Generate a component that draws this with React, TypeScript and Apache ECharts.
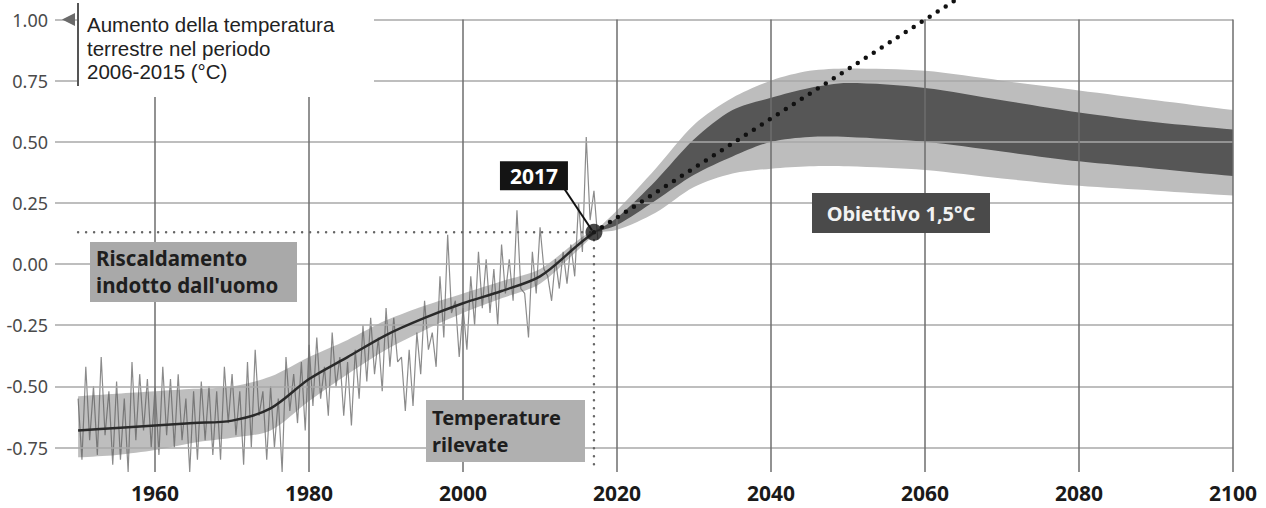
import React, { useEffect, useRef } from "react";
import * as echarts from "echarts";

const FONT = "'Noto Sans', 'Open Sans', sans-serif";
const NOTE_FONT = "'Liberation Sans', Arial, sans-serif";

// Axis ticks
const xTicks = [1960, 1980, 2000, 2020, 2040, 2060, 2080, 2100];
const yTicks = [-0.75, -0.5, -0.25, 0, 0.25, 0.5, 0.75, 1.0];
const xMin = 1947;
const xMax = 2100;
const yMin = -0.85;
const yMax = 1.0;

// Observed temperatures (annual high / low excursions), 1950..2017
const obsStart = 1950;
const obsHigh = [
  -0.55, -0.42, -0.5, -0.38, -0.52, -0.48, -0.55, -0.4, -0.45, -0.47,
  -0.5, -0.42, -0.47, -0.45, -0.55, -0.52, -0.48, -0.5, -0.52, -0.42,
  -0.45, -0.52, -0.4, -0.35, -0.52, -0.5, -0.55, -0.38, -0.45, -0.4,
  -0.33, -0.3, -0.42, -0.28, -0.38, -0.4, -0.35, -0.25, -0.22, -0.3,
  -0.18, -0.22, -0.38, -0.35, -0.28, -0.15, -0.28, -0.05, 0.12, -0.15,
  -0.18, -0.05, 0.05, 0.02, -0.02, 0.08, 0.02, 0.22, -0.12, 0.05,
  0.15, -0.05, 0.02, 0.05, 0.08, 0.25, 0.52, 0.3,
];
const obsLow = [
  -0.8, -0.72, -0.78, -0.7, -0.82, -0.8, -0.85, -0.72, -0.68, -0.75,
  -0.78, -0.7, -0.75, -0.72, -0.85, -0.8, -0.72, -0.78, -0.8, -0.65,
  -0.7, -0.82, -0.75, -0.62, -0.8, -0.75, -0.85, -0.6, -0.65, -0.68,
  -0.58, -0.55, -0.62, -0.5, -0.62, -0.66, -0.55, -0.48, -0.45, -0.52,
  -0.42, -0.4, -0.6, -0.58, -0.45, -0.35, -0.42, -0.3, -0.2, -0.38,
  -0.35, -0.25, -0.18, -0.2, -0.25, -0.12, -0.15, -0.1, -0.3, -0.12,
  -0.02, -0.15, -0.1, -0.08, -0.05, 0.05, 0.18, 0.1,
];

// Human-induced warming (central estimate and range)
const humYears = [1950, 1955, 1960, 1965, 1970, 1975, 1980, 1985, 1990, 1995, 2000, 2005, 2010, 2015, 2017];
const humCenter = [-0.68, -0.67, -0.66, -0.65, -0.64, -0.59, -0.47, -0.38, -0.29, -0.22, -0.16, -0.11, -0.05, 0.08, 0.13];
const humLower = [-0.79, -0.78, -0.76, -0.73, -0.71, -0.68, -0.56, -0.45, -0.35, -0.27, -0.2, -0.14, -0.08, 0.06, 0.12];
const humUpper = [-0.54, -0.53, -0.52, -0.51, -0.5, -0.46, -0.38, -0.31, -0.23, -0.17, -0.12, -0.07, -0.02, 0.1, 0.14];

// 1.5°C pathways (outer and inner ranges)
const projYears = [2017, 2020, 2025, 2030, 2035, 2040, 2045, 2050, 2060, 2070, 2080, 2090, 2100];
const projOuterTop = [0.13, 0.22, 0.39, 0.57, 0.68, 0.75, 0.79, 0.8, 0.79, 0.75, 0.71, 0.67, 0.63];
const projInnerTop = [0.13, 0.19, 0.34, 0.51, 0.63, 0.68, 0.72, 0.74, 0.72, 0.67, 0.62, 0.58, 0.55];
const projInnerBottom = [0.13, 0.16, 0.26, 0.365, 0.44, 0.5, 0.52, 0.52, 0.5, 0.46, 0.42, 0.39, 0.36];
const projOuterBottom = [0.13, 0.14, 0.21, 0.315, 0.37, 0.39, 0.4, 0.4, 0.385, 0.35, 0.32, 0.3, 0.28];

// Current trend continued
const trendYears = [2017, 2064];
const trendValues = [0.13, 1.08];

// 2017 marker
const markerYear = 2017;
const markerValue = 0.13;
const refStartYear = 1950;

const pairs = (xs: number[], ys: number[]) => xs.map((x, i) => [x, ys[i]]);

// Band drawn through the axes (api.coord), as one smooth polygon with sharp end corners
function bandSeries(name: string, xs: number[], lower: number[], upper: number[], fill: string, z: number, opacity = 1) {
  return {
    name,
    type: "custom",
    z,
    silent: true,
    data: [[xs[0], lower[0]]],
    renderItem: (_params: any, api: any) => {
      const top = xs.map((x, i) => api.coord([x, upper[i]]));
      const bottom = xs.map((x, i) => api.coord([x, lower[i]])).reverse();
      const pts = [
        top[0],
        ...top,
        top[top.length - 1],
        bottom[0],
        ...bottom,
        bottom[bottom.length - 1],
      ];
      return {
        type: "polygon",
        shape: { points: pts, smooth: 0.3 },
        style: { fill, opacity },
      };
    },
  };
}

export default function App() {
  const ref = useRef<HTMLDivElement>(null);

  useEffect(() => {
    document.body.style.margin = "0";
    if (!ref.current) return;
    const chart = echarts.init(ref.current, null, { renderer: "svg" });

    const obsData: number[][] = [];
    obsHigh.forEach((h, i) => {
      obsData.push([obsStart + i, h]);
      obsData.push([obsStart + i + 0.5, obsLow[i]]);
    });

    const option: any = {
      animation: false,
      backgroundColor: "#ffffff",
      grid: { left: 55, right: 33, top: 19.5, bottom: 36 },
      xAxis: {
        type: "value",
        min: xMin,
        max: xMax,
        axisLine: { show: false },
        axisTick: { show: false },
        splitLine: { show: false },
        axisLabel: {
          customValues: xTicks,
          margin: 10,
          color: "#1a1a1a",
          fontFamily: FONT,
          fontWeight: "bold",
          fontSize: 21,
          formatter: (v: number) => String(v),
        },
      },
      yAxis: {
        type: "value",
        min: yMin,
        max: yMax,
        axisLine: { show: false },
        axisTick: { show: false },
        splitLine: { show: false },
        axisLabel: {
          customValues: yTicks,
          margin: 7,
          color: "#4a4a4a",
          fontFamily: FONT,
          fontSize: 18,
          formatter: (v: number) => v.toFixed(2),
        },
      },
      series: [
        {
          name: "gridH",
          type: "line",
          data: [],
          z: 1,
          silent: true,
          markLine: {
            silent: true,
            symbol: ["none", "none"],
            label: { show: false },
            lineStyle: { color: "#a8a8a8", width: 1.5, type: "solid" },
            data: yTicks.map((v) => [{ coord: [xMin, v] }, { coord: [xMax, v] }]),
          },
        },
        {
          name: "gridV",
          type: "line",
          data: [],
          z: 1,
          silent: true,
          markLine: {
            silent: true,
            symbol: ["none", "none"],
            label: { show: false },
            lineStyle: { color: "#6e6e6e", width: 1.5, type: "solid" },
            data: xTicks.map((x) => [{ coord: [x, yMax] }, { coord: [x, yMin] }]),
          },
        },
        bandSeries("humRange", humYears, humLower, humUpper, "#b3b3b3", 3, 0.85),
        // observed
        {
          name: "observed",
          type: "line",
          symbol: "none",
          data: obsData,
          lineStyle: { color: "#5a5a5a", width: 1.2, opacity: 0.7 },
          z: 4,
          silent: true,
        },
        // human center
        {
          name: "humCenter",
          type: "line",
          symbol: "none",
          smooth: 0.3,
          data: pairs(humYears, humCenter),
          lineStyle: { color: "#2a2a2a", width: 2.5 },
          z: 5,
          silent: true,
        },
        bandSeries("projOuter", projYears, projOuterBottom, projOuterTop, "#bdbdbd", 3),
        bandSeries("projInner", projYears, projInnerBottom, projInnerTop, "#565656", 3),
        // reference dotted lines
        {
          name: "refH",
          type: "line",
          symbol: "none",
          data: [
            [refStartYear, markerValue],
            [markerYear, markerValue],
          ],
          lineStyle: { color: "#666", width: 2.5, type: [0, 8], cap: "round" },
          z: 6,
          silent: true,
        },
        {
          name: "refV",
          type: "line",
          symbol: "none",
          data: [
            [markerYear, markerValue],
            [markerYear, yMin],
          ],
          lineStyle: { color: "#666", width: 2.5, type: [0, 8], cap: "round" },
          z: 6,
          silent: true,
        },
        // trend dotted line
        {
          name: "trend",
          type: "line",
          symbol: "none",
          clip: false,
          data: pairs(trendYears, trendValues),
          lineStyle: { color: "#111", width: 4.5, type: [0, 9.5], cap: "round" },
          z: 7,
          silent: true,
        },
        {
          name: "marker",
          type: "scatter",
          data: [[markerYear, markerValue]],
          symbolSize: 17,
          itemStyle: { color: "#1a1a1a" },
          z: 8,
          silent: true,
        },
      ],
    };

    chart.setOption(option);

    const p = chart.convertToPixel({ gridIndex: 0 }, [markerYear, markerValue]) as number[];

    chart.setOption({
      graphic: [
        { type: "rect", z: 10, shape: { x: 78, y: 0, width: 296, height: 97 }, style: { fill: "#ffffff" } },
        {
          type: "polygon",
          z: 11,
          shape: { points: [[62, 19.5], [75, 13], [75, 26]] },
          style: { fill: "#6a6a6a" },
        },
        { type: "line", z: 11, shape: { x1: 78, y1: 3, x2: 78, y2: 86 }, style: { stroke: "#555", lineWidth: 2 } },
        {
          type: "text",
          z: 11,
          x: 87,
          y: 13,
          style: {
            text: "Aumento della temperatura\nterrestre nel periodo\n2006-2015 (°C)",
            font: `20.5px ${NOTE_FONT}`,
            fill: "#222",
            lineHeight: 23.5,
            verticalAlign: "top",
          },
        },
        // Riscaldamento box
        { type: "rect", z: 11, shape: { x: 90, y: 242, width: 207, height: 60 }, style: { fill: "#a9a9a9" } },
        {
          type: "text",
          z: 12,
          x: 96,
          y: 244,
          style: {
            text: "Riscaldamento\nindotto dall'uomo",
            font: `bold 20.5px ${FONT}`,
            fill: "#1e1e1e",
            lineHeight: 27,
            verticalAlign: "top",
          },
        },
        // Temperature rilevate box
        { type: "rect", z: 11, shape: { x: 426, y: 400, width: 159, height: 62 }, style: { fill: "#b0b0b0" } },
        {
          type: "text",
          z: 12,
          x: 432,
          y: 404,
          style: {
            text: "Temperature\nrilevate",
            font: `bold 20px ${FONT}`,
            fill: "#1e1e1e",
            lineHeight: 27,
            verticalAlign: "top",
          },
        },
        // Obiettivo box
        { type: "rect", z: 11, shape: { x: 812, y: 193, width: 178, height: 40 }, style: { fill: "#4a4a4a" } },
        {
          type: "text",
          z: 12,
          x: 901,
          y: 213,
          style: {
            text: "Obiettivo 1,5°C",
            font: `bold 20px ${FONT}`,
            fill: "#f2f2f2",
            align: "center",
            verticalAlign: "middle",
          },
        },
        // 2017 label
        {
          type: "line",
          z: 12,
          shape: { x1: p[0] - 30, y1: p[1] - 44, x2: p[0] - 2, y2: p[1] - 2 },
          style: { stroke: "#111", lineWidth: 2 },
        },
        {
          type: "rect",
          z: 13,
          shape: { x: p[0] - 94, y: p[1] - 71, width: 68, height: 29 },
          style: { fill: "#141414" },
        },
        {
          type: "text",
          z: 14,
          x: p[0] - 60,
          y: p[1] - 56.5,
          style: {
            text: String(markerYear),
            font: `bold 21px ${FONT}`,
            fill: "#ffffff",
            align: "center",
            verticalAlign: "middle",
          },
        },
      ],
    });

    return () => {
      chart.dispose();
    };
  }, []);

  return <div ref={ref} style={{ width: 1266, height: 508 }} />;
}
